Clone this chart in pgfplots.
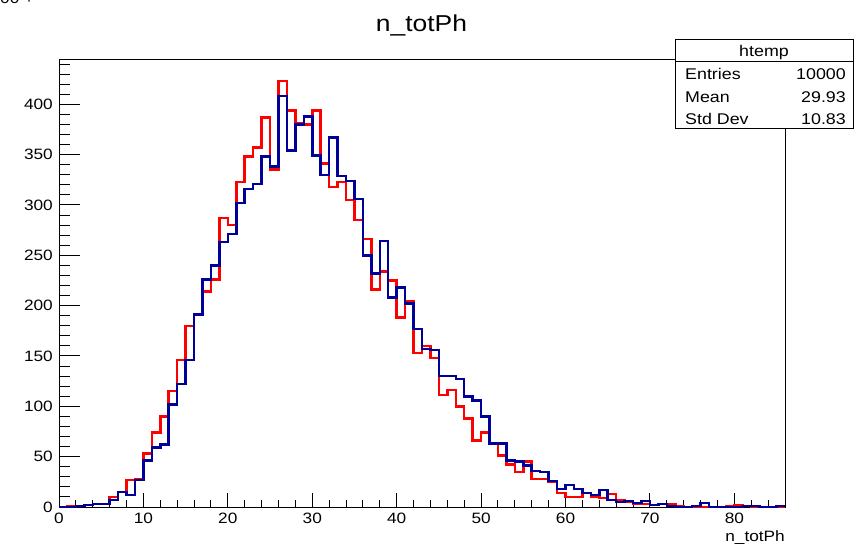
\documentclass[border=0pt]{standalone}
\usepackage{fontspec}
\setmainfont{Liberation Sans}[FakeStretch=1.15]
\usepackage{pgfplots}
\pgfplotsset{compat=1.18}
\definecolor{rootblue}{RGB}{0,0,153}
\definecolor{rootred}{RGB}{255,0,0}
\pgfplotsset{rootaxis/.style={at={(59pt,39pt)}, anchor=south west, scale only axis,
  width=726pt, height=447pt,
  xmin=0, xmax=86, ymin=0, ymax=444,
  xtick pos=lower, ytick pos=left, tick align=inside,
  axis line style={line width=1pt},
  every tick/.append style={black, line width=1pt},
  tick label style={font=\fontsize{15}{18}\selectfont, inner sep=0pt},
  yticklabel style={xshift=-6pt},
  xticklabel style={yshift=-6pt},
  /pgf/number format/assume math mode=true,
  clip=false}}
\begin{document}
\begin{tikzpicture}[x=1pt,y=1pt]
\useasboundingbox (0,0) rectangle (856,546);
% axis carrying the x ticks
\begin{axis}[rootaxis, xtick={0,10,...,80}, minor xtick={2,4,...,86}, ytick=\empty,
  major tick length=14pt, minor tick length=7pt]
\end{axis}
% axis carrying the data and the y ticks
\begin{axis}[rootaxis, xtick=\empty, ytick={0,50,...,400}, minor ytick={10,20,...,440},
  major tick length=21pt, minor tick length=10.5pt]
\addplot[const plot, rootred, line width=2.5pt, line join=miter] coordinates {
(0,0)(1,1)(2,1)(3,2)(4,3)(5,3)(6,10)(7,15)(8,27)(9,28)(10,53)(11,74)(12,90)(13,115)(14,146)(15,180)(16,191)(17,214)(18,226)(19,287)(20,280)(21,323)(22,348)(23,357)(24,387)(25,335)(26,423)(27,394)(28,381)(29,380)(30,394)(31,341)(32,318)(33,323)(34,305)(35,285)(36,266)(37,216)(38,234)(39,225)(40,188)(41,204)(42,153)(43,160)(44,148)(45,111)(46,116)(47,100)(48,88)(49,66)(50,74)(51,63)(52,51)(53,42)(54,35)(55,45)(56,28)(57,28)(58,25)(59,14)(60,10)(61,10)(62,14)(63,10)(64,9)(65,13)(66,7)(67,5)(68,3)(69,3)(70,2)(71,3)(72,3)(73,1)(74,0)(75,0)(76,0)(77,0)(78,0)(79,1)(80,2)(81,1)(82,0)(83,0)(84,0)(85,0)(86,0)};
\addplot[const plot, rootblue, line width=2.5pt, line join=miter] coordinates {
(0,0)(1,0)(2,1)(3,2)(4,3)(5,3)(6,7)(7,15)(8,12)(9,27)(10,46)(11,59)(12,62)(13,102)(14,122)(15,146)(16,191)(17,226)(18,240)(19,263)(20,271)(21,302)(22,316)(23,321)(24,348)(25,338)(26,408)(27,354)(28,380)(29,388)(30,349)(31,330)(32,367)(33,329)(34,324)(35,306)(36,250)(37,232)(38,264)(39,208)(40,218)(41,202)(42,177)(43,157)(44,156)(45,130)(46,130)(47,127)(48,110)(49,106)(50,90)(51,63)(52,63)(53,46)(54,45)(55,41)(56,36)(57,35)(58,26)(59,18)(60,22)(61,18)(62,14)(63,12)(64,17)(65,7)(66,5)(67,6)(68,4)(69,6)(70,2)(71,3)(72,1)(73,0)(74,0)(75,1)(76,4)(77,0)(78,0)(79,0)(80,0)(81,1)(82,1)(83,0)(84,0)(85,1)(86,1)};
\end{axis}
% title
\node[anchor=base, inner sep=0pt, font=\fontsize{23}{28}\selectfont] at (421.5,514.3) {n\_totPh};
% x label
\node[anchor=base east, inner sep=0pt, font=\fontsize{15}{18}\selectfont] at (785,5) {n\_totPh};
% stats box
\draw[line width=1pt, fill=white] (675,417) rectangle (853,506);
\draw[line width=1pt] (675,484) -- (853,484);
\begin{scope}[every node/.style={inner sep=0pt, font=\fontsize{15.5}{18}\selectfont}]
\node[anchor=base] at (764,489.3) {htemp};
\node[anchor=base west] at (685,466) {Entries};
\node[anchor=base east] at (846,466) {10000};
\node[anchor=base west] at (685,443.3) {Mean};
\node[anchor=base east] at (846,443.3) {29.93};
\node[anchor=base west] at (685,421) {Std Dev};
\node[anchor=base east] at (846,421) {10.83};
\end{scope}
% clipped artifact at top left (cut off in the reference too)
\node[anchor=base west, inner sep=0pt, font=\fontsize{15}{18}\selectfont] at (0,542) {00 +};
\end{tikzpicture}
\end{document}
